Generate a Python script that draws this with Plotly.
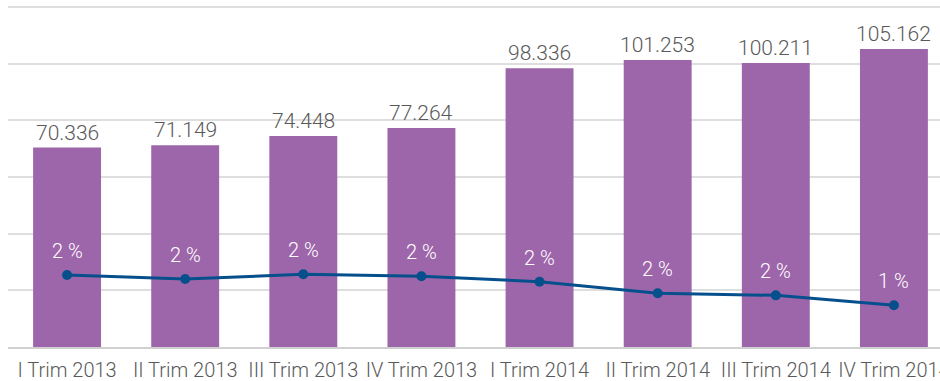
import plotly.graph_objects as go

# Quarterly volumes and share (%) per quarter
quarters = ["I Trim 2013", "II Trim 2013", "III Trim 2013", "IV Trim 2013",
            "I Trim 2014", "II Trim 2014", "III Trim 2014", "IV Trim 2014"]
volumes = [70336, 71149, 74448, 77264, 98336, 101253, 100211, 105162]
share_pct = [2.33, 2.20, 2.35, 2.29, 2.11, 1.74, 1.67, 1.35]

BAR_COLOR = "#9e66aa"
LINE_COLOR = "#05508c"
TEXT_GRAY = "#595959"
FONT = "Roboto"
WEIGHT = 300

# value axis headroom so the top gridline (120.000) is still drawn
Y_MAX = 121000
Y2_MAX = 11 * Y_MAX / 120000

fig = go.Figure()

fig.add_trace(go.Bar(
    x=quarters, y=volumes,
    marker=dict(color=BAR_COLOR, line=dict(width=0)),
    width=0.575,
    hoverinfo="skip",
    yaxis="y",
))

fig.add_trace(go.Scatter(
    x=quarters, y=share_pct,
    mode="lines+markers",
    line=dict(color=LINE_COLOR, width=3),
    marker=dict(color=LINE_COLOR, size=10),
    yaxis="y2",
    hoverinfo="skip",
))

annotations = []
for q, v in zip(quarters, volumes):
    annotations.append(dict(
        x=q, y=v, xref="x", yref="y",
        text=f"{v:,}".replace(",", "."),
        showarrow=False, yanchor="bottom", yshift=1,
        font=dict(family=FONT, size=21, color=TEXT_GRAY, weight=WEIGHT),
    ))
for q, p in zip(quarters, share_pct):
    annotations.append(dict(
        x=q, y=p, xref="x", yref="y2",
        text=f"{p:.0f} %",
        showarrow=False, yanchor="bottom", yshift=10,
        font=dict(family=FONT, size=20, color="white", weight=WEIGHT),
    ))

fig.update_layout(
    width=940, height=381,
    margin=dict(l=8, r=0, t=4, b=34),
    paper_bgcolor="white", plot_bgcolor="white",
    showlegend=False,
    separators=",.",
    font=dict(family=FONT, color=TEXT_GRAY, weight=WEIGHT),
    xaxis=dict(
        range=[-0.5, 7.39],
        automargin=False,
        showgrid=False,
        showline=True, linecolor="#d0d0d0", linewidth=2,
        ticks="", tickfont=dict(family=FONT, size=20, color=TEXT_GRAY, weight=WEIGHT),
        ticklabelstandoff=4,
    ),
    yaxis=dict(
        range=[0, Y_MAX], dtick=20000,
        automargin=False,
        showgrid=True, gridcolor="#dedede", gridwidth=1.5,
        showticklabels=False, zeroline=False, showline=False,
    ),
    yaxis2=dict(
        range=[0, Y2_MAX], overlaying="y", side="right",
        automargin=False,
        showgrid=False, showticklabels=False, zeroline=False, showline=False,
    ),
    annotations=annotations,
)

fig.write_html("out.html")
